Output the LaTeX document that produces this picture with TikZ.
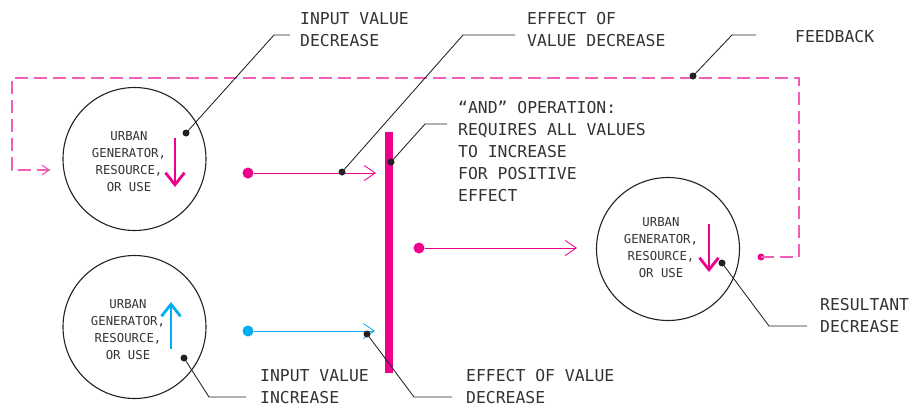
\documentclass[tikz,border=0pt]{standalone}
\usepackage{fontspec}
\newfontfamily\lblfont{DejaVu Sans Mono}
\usetikzlibrary{arrows.meta}
\definecolor{mag}{HTML}{EC008C}
\definecolor{cyanb}{HTML}{00AEEF}
\definecolor{dashc}{HTML}{F25DB8}
\definecolor{ink}{HTML}{222222}
\definecolor{txt}{HTML}{333333}
\begin{document}
\begin{tikzpicture}[x=1pt,y=-1pt,
  gen/.style={circle,draw=ink,line width=1.1pt,minimum size=143pt,inner sep=0pt},
  gentext/.style={font=\lblfont\fontsize{12.3}{17}\selectfont,align=center,text=txt,inner sep=0pt},
  lbl/.style={font=\lblfont\fontsize{16.4}{22}\selectfont,align=left,text=txt,inner sep=0pt,anchor=north west},
  pdot/.style={circle,fill=mag,inner sep=0pt,minimum size=11pt},
  cdot/.style={circle,fill=cyanb,inner sep=0pt,minimum size=11pt},
  bdot/.style={circle,fill=ink,inner sep=0pt,minimum size=7pt},
  sdot/.style={circle,fill=mag,inner sep=0pt,minimum size=7pt},
  leader/.style={draw=ink,line width=0.85pt},
  flow/.style={line width=0.85pt,-{Straight Barb[length=11pt,width=15pt]}},
  updown/.style={line width=2.8pt,-{Straight Barb[length=12pt,width=19pt]}},
  fb/.style={draw=dashc,line width=1.2pt,dash pattern=on 13pt off 6pt},
  andbar/.style={rectangle,fill=mag,inner sep=0pt,minimum width=8pt,minimum height=241pt}
]
\useasboundingbox (0,0) rectangle (916,413);

% circles
\node[gen] (c1) at (134.5,159) {};
\node[gen] (c2) at (134.5,327) {};
\node[gen] (c3) at (668,249) {};
\node[gentext] (t1) at (129,161.5) {URBAN\\GENERATOR,\\RESOURCE,\\OR USE};
\node[gentext] (t2) at (128,329.5) {URBAN\\GENERATOR,\\RESOURCE,\\OR USE};
\node[gentext] (t3) at (661,247.5) {URBAN\\GENERATOR,\\RESOURCE,\\OR USE};

% arrows in circles
\coordinate (a1s) at (175,138); \coordinate (a1e) at (175,187);
\coordinate (a2s) at (171,349); \coordinate (a2e) at (171,302);
\coordinate (a3s) at (709,224); \coordinate (a3e) at (709,272);
\draw[updown,mag] (a1s) -- (a1e);
\draw[updown,cyanb] (a2s) -- (a2e);
\draw[updown,mag] (a3s) -- (a3e);

% AND bar
\node[andbar] (bar) at (389,252.5) {};

% flows
\node[pdot] (p1) at (248,173) {};
\coordinate (p1e) at (376,173);
\draw[flow,mag] (p1) -- (p1e);
\node[cdot] (p2) at (248,331) {};
\coordinate (p2e) at (375,331);
\draw[flow,cyanb,line width=0.8pt] (p2) -- (p2e);
\node[pdot] (po) at (419,248) {};
\coordinate (poe) at (577,248);
\draw[flow,mag] (po) -- (poe);

% feedback
\node[sdot] (fbd) at (761,257) {};
\coordinate (fb1) at (799,257);
\coordinate (fb2) at (799,78);
\coordinate (fb3) at (12,78);
\coordinate (fb4) at (12,170);
\coordinate (fbp) at (48,170);
\coordinate (fbe) at (50,170);
\draw[fb] (fbd.center) -- (fb1) -- (fb2) -- (fb3) -- (fb4) -- (fbe);
\draw[draw=dashc,line width=1.2pt,-{Straight Barb[length=7pt,width=10pt]}] (fbp) -- (fbe);

% labels
\node[lbl] (l1) at (300,12) {INPUT VALUE\\DECREASE};
\node[lbl] (l2) at (527,12) {EFFECT OF\\VALUE DECREASE};
\node[lbl] (l3) at (458,101) {“AND” OPERATION:\\REQUIRES ALL VALUES\\TO INCREASE\\FOR POSITIVE\\EFFECT};
\node[lbl] (l4) at (795,30) {FEEDBACK};
\node[lbl] (l5) at (820,298) {RESULTANT\\DECREASE};
\node[lbl] (l6) at (260,369) {INPUT VALUE\\INCREASE};
\node[lbl] (l7) at (466,369) {EFFECT OF VALUE\\DECREASE};

% leader dots
\node[bdot] (b1) at (186,133) {};
\node[bdot] (b2) at (342,172) {};
\node[bdot] (b3) at (391,162) {};
\node[bdot] (b4) at (693,76) {};
\node[bdot] (b5) at (722,263) {};
\node[bdot] (b6) at (184,358) {};
\node[bdot] (b7) at (367,334) {};

% leader ends
\coordinate (k1) at (274,35); \coordinate (e1) at (290,35);
\coordinate (k2) at (463,35); \coordinate (e2) at (515,35);
\coordinate (k3) at (425,124); \coordinate (e3) at (447,124);
\coordinate (k4) at (732,35); \coordinate (e4) at (756,35);
\coordinate (k5) at (769,326); \coordinate (e5) at (807,326);
\coordinate (k6) at (209,397); \coordinate (e6) at (246,397);
\coordinate (k7) at (414,397); \coordinate (e7) at (452,397);
\draw[leader] (b1.center) -- (k1) -- (e1);
\draw[leader] (b2.center) -- (k2) -- (e2);
\draw[leader] (b3.center) -- (k3) -- (e3);
\draw[leader] (b4.center) -- (k4) -- (e4);
\draw[leader] (b5.center) -- (k5) -- (e5);
\draw[leader] (b6.center) -- (k6) -- (e6);
\draw[leader] (b7.center) -- (k7) -- (e7);
\end{tikzpicture}
\end{document}
